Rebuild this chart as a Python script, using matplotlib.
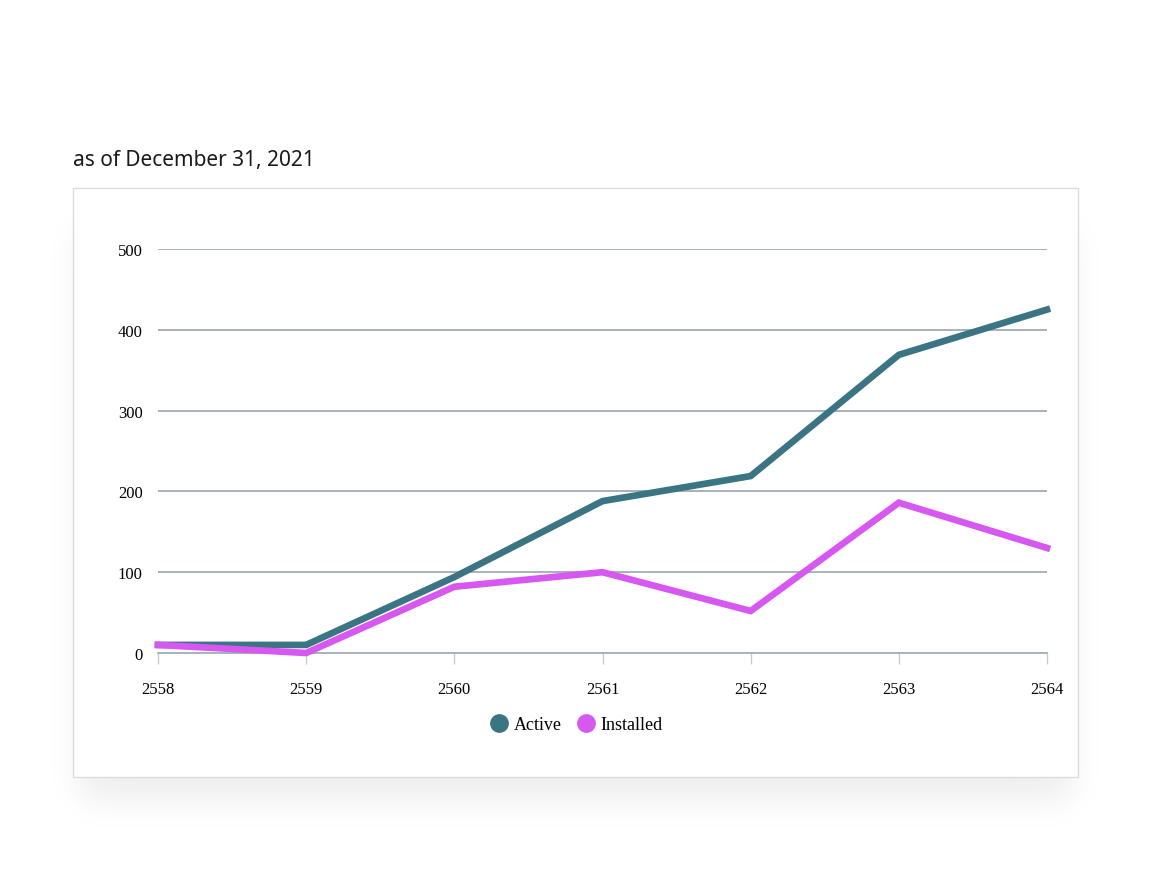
import matplotlib
matplotlib.use("Agg")
import matplotlib.pyplot as plt
import numpy as np
from matplotlib.patches import Rectangle
from matplotlib.lines import Line2D

years = ["2558", "2559", "2560", "2561", "2562", "2563", "2564"]
active = [10, 10, 94, 188, 219, 369, 425]
installed = [10, 0, 82, 100, 52, 186, 130]
y_ticks = [0, 100, 200, 300, 400, 500]
title = "as of December 31, 2021"

W, H = 1157, 870
fig = plt.figure(figsize=(W / 100, H / 100), dpi=100)
fig.patch.set_facecolor("white")

# soft shadow for panel
bg = fig.add_axes([0, 0, 1, 1])
bg.set_xlim(0, W)
bg.set_ylim(H, 0)
bg.axis("off")
gx = np.arange(W) + 0.5
gy = np.arange(H) + 0.5
s = 20.0
sx = 0.5 * (np.tanh((gx - 80) / s) - np.tanh((gx - 1071) / s))
sy = 0.5 * (np.tanh((gy - 230) / s) - np.tanh((gy - 800) / s))
alpha = 0.075 * np.outer(sy, sx)
img = np.zeros((H, W, 4))
img[..., 3] = alpha
bg.imshow(img, extent=(0, W, H, 0), interpolation="bilinear", zorder=0)
bg.set_xlim(0, W)
bg.set_ylim(H, 0)
bg.add_patch(Rectangle((73, 189), 1005, 589, facecolor="white", edgecolor="#dcdcdc", lw=1.0, zorder=1))
bg.text(73, 158, title, fontsize=15, family=["Noto Sans", "DejaVu Sans"], color="#1a1a1a",
        va="center_baseline", ha="left", zorder=2)

serif = ["Liberation Serif", "DejaVu Serif"]
ax = fig.add_axes([158 / W, (H - 654) / H, (1047 - 158) / W, (654 - 250) / H])
ax.patch.set_alpha(0)
x = list(range(len(years)))
ax.set_xlim(0, len(years) - 1)
ax.set_ylim(0, 500)
for v in y_ticks[1:]:
    ax.axhline(v, color="#9aa4ae", lw=1.2, zorder=1)
ax.plot(x, active, color="#3b7483", lw=4.8, solid_joinstyle="miter", clip_on=False, zorder=3, label="Active")
ax.plot(x, installed, color="#d757f1", lw=4.8, solid_joinstyle="miter", clip_on=False, zorder=4, label="Installed")

for sp in ["top", "right", "left"]:
    ax.spines[sp].set_visible(False)
ax.spines["bottom"].set_color("#9aa4ae")
ax.spines["bottom"].set_linewidth(1.2)
ax.set_xticks(x)
ax.set_xticklabels(years, family=serif, fontsize=12)
ax.set_yticks(y_ticks)
ax.set_yticklabels([str(v) for v in y_ticks], family=serif, fontsize=12)
ax.tick_params(axis="y", length=0, pad=11)
ax.tick_params(axis="x", length=8, color="#c8ccd0", width=1, pad=12, direction="out")
for lab in ax.get_yticklabels():
    lab.set_verticalalignment("center_baseline")

handles = [Line2D([], [], marker="o", ls="", color="#3b7483", markersize=12.5),
           Line2D([], [], marker="o", ls="", color="#d757f1", markersize=12.5)]
leg = fig.legend(handles, ["Active", "Installed"], loc="center", bbox_to_anchor=(577 / W, (H - 726) / H),
                 ncol=2, frameon=False, prop={"family": serif, "size": 13}, handlelength=0.9,
                 handletextpad=0.35, columnspacing=0.9)

fig.savefig("out.png", dpi=100, facecolor="white")
